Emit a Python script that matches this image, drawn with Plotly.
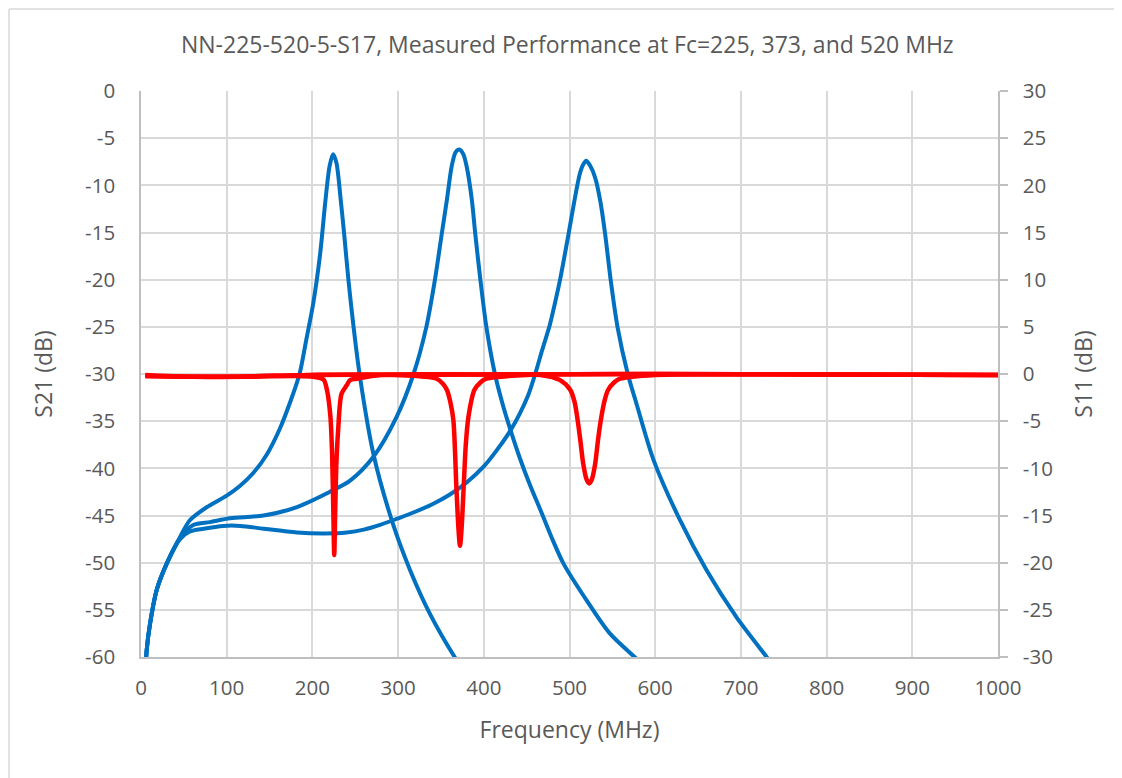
import plotly.graph_objects as go

# ---- data (frequency in MHz, level in dB) ----
s21_225_f = [5, 6.6, 10.5, 18.3, 30, 45.5, 57, 77, 100, 115, 131, 147, 162, 174, 185, 193, 201, 209, 215,
             220, 224, 228, 233, 237, 242, 248, 255, 271, 294, 314, 337, 366, 372]
s21_225_db = [-62, -59.3, -56.5, -52.9, -50.1, -47.3, -45.5, -44.1, -42.9, -41.9, -40.5, -38.5, -35.8, -33.0,
              -30.0, -26.3, -22.5, -17.3, -11.8, -8.0, -6.7, -7.6, -11.5, -15.1, -20.0, -25.0, -30.0, -38.4,
              -45.9, -50.8, -55.4, -60.0, -60.8]

s21_373_f = [5, 6.6, 10.5, 18.3, 30, 45.5, 61, 80.5, 104, 143, 182, 220, 244, 271, 298, 318, 333, 343,
             351, 357, 362.5, 367, 371.5, 376, 380, 386, 390, 396, 403, 413, 422, 431, 442, 454, 466, 479,
             493, 520, 547, 576, 582]
s21_373_db = [-62, -59.3, -56.5, -52.9, -50.1, -47.4, -46.0, -45.7, -45.3, -45.0, -44.1, -42.5, -41.3, -38.8,
              -34.6, -30.0, -25.0, -20.0, -15.1, -11.5, -8.0, -6.5, -6.2, -6.7, -8.0, -11.5, -15.1, -20.0,
              -25.0, -30.0, -33.2, -35.9, -38.9, -41.8, -44.4, -47.3, -50.1, -54.0, -57.5, -60.0, -60.5]

s21_520_f = [5, 6.6, 10.5, 18.3, 30, 45.5, 57, 73, 96, 116, 143, 182, 213, 240, 260, 279, 300, 320, 340,
             360, 380, 400, 415, 431, 442, 452, 460, 468, 477, 483, 489, 499, 506, 512, 516, 519.5, 524, 530,
             536, 541.5, 548, 556, 568, 578, 598, 629, 660, 695, 730, 736]
s21_520_db = [-62, -59.3, -56.5, -52.9, -50.1, -47.5, -46.7, -46.4, -46.1, -46.1, -46.4, -46.8, -46.9, -46.8,
              -46.5, -46.0, -45.3, -44.6, -43.8, -42.8, -41.5, -39.8, -38.1, -36.0, -34.2, -32.2, -30.0,
              -27.5, -24.8, -22.5, -20.0, -15.1, -11.5, -8.8, -7.8, -7.4, -7.9, -9.2, -11.7, -15.1, -20.0,
              -25.0, -30.0, -33.1, -39.1, -45.5, -50.8, -55.8, -60.0, -60.8]

s11_225_f = [5, 60, 120, 180, 201, 213, 217, 221, 223, 224.5, 225.5, 226.5, 228, 230, 234, 240, 244,
             252, 279, 400, 600, 800, 1000]
s11_225_db = [-0.1, -0.3, -0.3, -0.2, -0.3, -0.6, -1.7, -4.5, -8.5, -15.0, -19.2, -15.0, -9.5, -6.0, -2.1,
              -1.2, -0.65, -0.5, -0.1, -0.05, 0.0, -0.05, -0.1]

s11_373_f = [5, 100, 200, 300, 345, 352, 357, 361, 364.5, 368, 370.5, 372.2, 374, 376.5, 379, 382, 389,
             396, 403, 450, 600, 800, 1000]
s11_373_db = [-0.2, -0.3, -0.1, -0.1, -0.5, -1.0, -1.7, -3.0, -4.9, -12.0, -16.5, -18.2, -16.5, -12.0,
              -7.5, -4.6, -1.7, -0.9, -0.5, -0.1, 0.0, -0.05, -0.1]

s11_520_f = [5, 100, 200, 300, 400, 466, 489, 501, 506, 510, 513, 516, 520, 523, 526, 530, 533, 536,
             541, 545, 552, 559, 600, 800, 1000]
s11_520_db = [-0.2, -0.3, -0.1, -0.1, -0.05, -0.1, -0.65, -1.7, -3.0, -5.2, -7.3, -9.5, -11.2, -11.6,
              -11.2, -9.5, -7.2, -5.2, -2.8, -1.7, -0.9, -0.5, -0.1, -0.05, -0.1]

x_ticks = [0, 100, 200, 300, 400, 500, 600, 700, 800, 900, 1000]
left_ticks = [0, -5, -10, -15, -20, -25, -30, -35, -40, -45, -50, -55, -60]
right_ticks = [30, 25, 20, 15, 10, 5, 0, -5, -10, -15, -20, -25, -30]

BLUE = "#0070C0"
RED = "#FF0000"
FONT = "Open Sans"
TXT = "#595959"
GRID = "#D9D9D9"

fig = go.Figure()
for f, v in [(s21_225_f, s21_225_db), (s21_373_f, s21_373_db), (s21_520_f, s21_520_db)]:
    fig.add_trace(go.Scatter(x=f, y=v, mode="lines", yaxis="y",
                             line=dict(color=BLUE, width=4, shape="spline", smoothing=0.8),
                             showlegend=False, hoverinfo="skip"))
for f, v in [(s11_225_f, s11_225_db), (s11_373_f, s11_373_db), (s11_520_f, s11_520_db)]:
    fig.add_trace(go.Scatter(x=f, y=v, mode="lines", yaxis="y2",
                             line=dict(color=RED, width=4.5, shape="spline", smoothing=0.8),
                             showlegend=False, hoverinfo="skip"))

fig.update_layout(
    width=1122, height=778,
    margin=dict(l=133, r=132, t=83, b=129),
    paper_bgcolor="white", plot_bgcolor="white",
    font=dict(family=FONT, color=TXT, size=18),
    title=dict(text="NN-225-520-5-S17, Measured Performance at Fc=225, 373, and 520 MHz",
               x=0.4985, xanchor="center", y=0.952, yanchor="middle",
               font=dict(family=FONT, size=23, color=TXT)),
    xaxis=dict(range=[0, 1000], tickvals=x_ticks, ticktext=[str(t) for t in x_ticks],
               showgrid=True, gridcolor=GRID, gridwidth=1.5, zeroline=False,
               showline=True, linecolor="#BFBFBF", linewidth=1.5, mirror=False,
               ticks="", ticklabelstandoff=12,
               tickfont=dict(size=20.5, color=TXT, family=FONT),
               title=dict(text="Frequency (MHz)", font=dict(size=23, color=TXT, family=FONT), standoff=22)),
    yaxis=dict(range=[-60, 0], tickvals=left_ticks, ticktext=[str(t) for t in left_ticks],
               showgrid=True, gridcolor=GRID, gridwidth=1.5, zeroline=False,
               showline=True, linecolor="#BFBFBF", linewidth=1.5,
               ticks="", ticklabelstandoff=20,
               tickfont=dict(size=20.5, color=TXT, family=FONT),
               title=dict(text="S21 (dB)", font=dict(size=23, color=TXT, family=FONT), standoff=26)),
    yaxis2=dict(range=[-30, 30], tickvals=right_ticks, ticktext=[str(t) for t in right_ticks],
                overlaying="y", side="right", showgrid=False, zeroline=False,
                showline=True, linecolor="#BFBFBF", linewidth=1.5,
                ticks="outside", ticklen=8, tickcolor="#BFBFBF", tickwidth=1.5,
                ticklabelstandoff=11,
                tickfont=dict(size=20.5, color=TXT, family=FONT),
                title=dict(text="S11 (dB)", font=dict(size=23, color=TXT, family=FONT), standoff=24)),
)

# light chart-area border (top and left edges visible in the reference)
W, H = 857.0, 566.0
fig.add_shape(type="line", xref="paper", yref="paper",
              x0=(9 - 141) / W, x1=(1130 - 141) / W, y0=(657 - 9) / H, y1=(657 - 9) / H,
              line=dict(color=GRID, width=1.5))
fig.add_shape(type="line", xref="paper", yref="paper",
              x0=(9 - 141) / W, x1=(9 - 141) / W, y0=(657 - 9) / H, y1=(657 - 786) / H,
              line=dict(color=GRID, width=1.5))

fig.write_html("out.html")
